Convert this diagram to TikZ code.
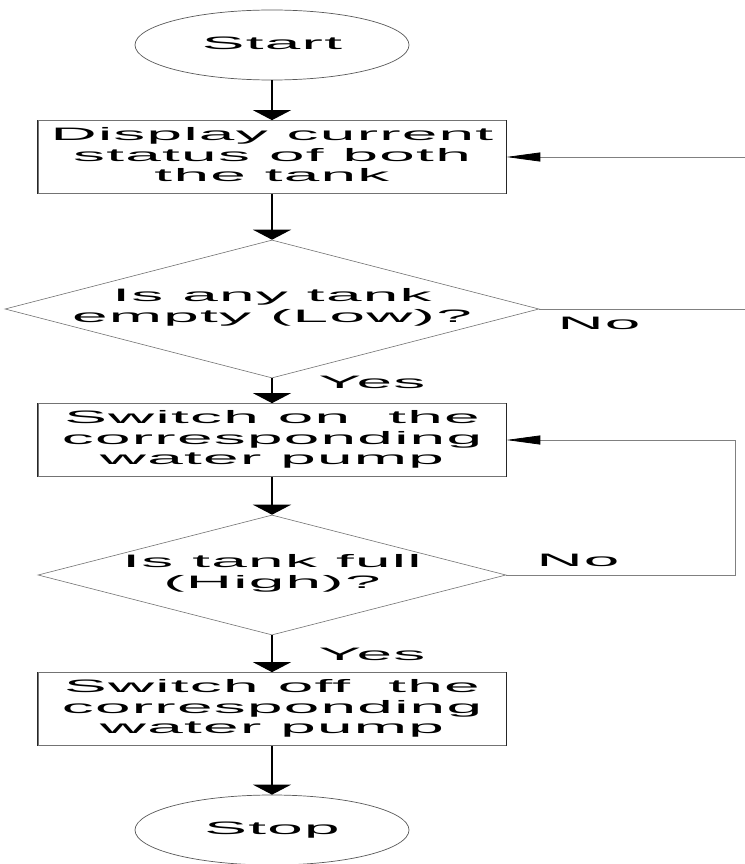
\documentclass[tikz,border=0pt]{standalone}
\usepackage{fontspec}
\setmainfont{Liberation Sans}[LetterSpace=2]
\usetikzlibrary{shapes.geometric,arrows.meta}
% wide lettering: each text block is set centred and stretched sideways
\newcommand\widetext[1]{\scalebox{3.55}[1]{\begin{tabular}{@{}c@{}}#1\end{tabular}}}
\begin{document}
\begin{tikzpicture}[x=1pt,y=-1pt,
  lbl/.style={font=\fontsize{18}{20.5}\selectfont, inner sep=0pt},
  sidewall/.style={draw=black!85, line width=1.5pt},
  terminal/.style={ellipse, draw=black!65, line width=0.7pt, minimum width=274pt,
    minimum height=70pt, inner sep=0pt, lbl},
  process/.style={rectangle, draw=black!55, line width=0.7pt, minimum width=468pt,
    minimum height=73pt, inner sep=0pt, lbl,
    append after command={
      (\tikzlastnode.north west) edge[sidewall] (\tikzlastnode.south west)
      (\tikzlastnode.north east) edge[sidewall] (\tikzlastnode.south east)}},
  decision/.style={diamond, draw=black!55, line width=0.6pt, inner sep=0pt},
  flow/.style={draw=black, line width=1.3pt, -{Triangle[width=38pt,length=10pt]}},
  back/.style={draw=black!50, line width=0.8pt, -{Triangle[width=9pt,length=34pt,black]}},
]
\useasboundingbox[fill=white] (0,0) rectangle (744,864);

% main column
\node[terminal] (start) at (272,45) {\widetext{Start}};
\node[process] (show) at (272,157) {\widetext{Display current\\status of both\\the tank}};
\node[decision, minimum width=534pt, minimum height=138pt] (anyempty) at (272,309) {};
\node[lbl] (anyemptytext) at (272,308) {\widetext{Is any tank\\empty (Low)?}};
\node[process] (pumpon) at (272,440) {\widetext{Switch on~ the\\corresponding\\water pump}};
\node[decision, minimum width=468pt, minimum height=120pt] (isfull) at (272,575) {};
\node[lbl] (isfulltext) at (272,574) {\widetext{Is tank full\\(High)?}};
\node[process] (pumpoff) at (272,709) {\widetext{Switch off~ the\\corresponding\\water pump}};
\node[terminal] (stop) at (272,830) {\widetext{Stop}};

% branch labels
\node[lbl] (noA) at (599,325) {\widetext{No}};
\node[lbl] (yesA) at (372,384) {\widetext{Yes}};
\node[lbl] (noB) at (578,562) {\widetext{No}};
\node[lbl] (yesB) at (372,656) {\widetext{Yes}};

% forward flow
\draw[flow] (start) -- (show);
\draw[flow] (show) -- (anyempty);
\draw[flow] (anyempty) -- (pumpon);
\draw[flow] (pumpon) -- (isfull);
\draw[flow] (isfull) -- (pumpoff);
\draw[flow] (pumpoff) -- (stop);

% loops back
\coordinate (loopA) at (747,0);
\coordinate (loopB) at (735,0);
\draw[back] (anyempty.east) -- (anyempty.east -| loopA) |- (show.east);
\draw[back] (isfull.east) -- (isfull.east -| loopB) |- (pumpon.east);
\end{tikzpicture}
\end{document}
